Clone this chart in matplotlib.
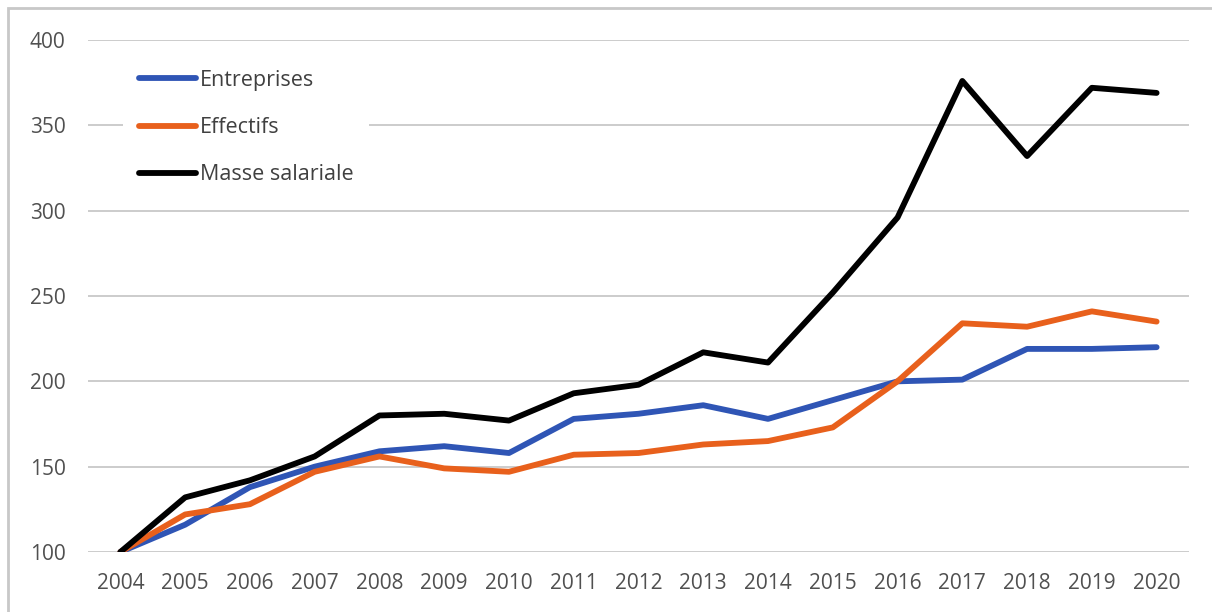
import matplotlib.pyplot as plt
from matplotlib.patches import Rectangle

years = [str(y) for y in range(2004, 2021)]
entreprises = [100, 116, 138, 150, 159, 162, 158, 178, 181, 186, 178, 189, 200, 201, 219, 219, 220]
effectifs = [100, 122, 128, 147, 156, 149, 147, 157, 158, 163, 165, 173, 200, 234, 232, 241, 235]
masse_salariale = [100, 132, 142, 156, 180, 181, 177, 193, 198, 217, 211, 252, 296, 376, 332, 372, 369]

plt.rcParams['font.family'] = ['Open Sans', 'DejaVu Sans']

fig = plt.figure(figsize=(12.12, 6.12), dpi=100)
ax = fig.add_axes([88 / 1212, 1 - 552 / 612, (1189 - 88) / 1212, 512 / 612])

x = range(len(years))
ax.plot(x, entreprises, color='#2f55b5', lw=4.2, label='Entreprises', solid_capstyle='round')
ax.plot(x, effectifs, color='#e8601c', lw=4.2, label='Effectifs', solid_capstyle='round')
ax.plot(x, masse_salariale, color='black', lw=4.2, label='Masse salariale', solid_capstyle='round')

ax.set_xlim(-0.5, len(years) - 0.5)
ax.set_ylim(100, 400)
ax.set_yticks(range(100, 401, 50))
ax.set_xticks(list(x))
ax.set_xticklabels(years)
ax.yaxis.grid(True, color='#c8c8c8', lw=1.3)
ax.set_axisbelow(True)
for s in ax.spines.values():
    s.set_visible(False)
ax.tick_params(length=0, labelsize=15, labelcolor='#505050')
ax.tick_params(axis='y', pad=42)
ax.tick_params(axis='x', pad=15)
for lab in ax.get_yticklabels():
    lab.set_horizontalalignment('left')

leg = ax.legend(loc='upper left', bbox_to_anchor=(0.032, 0.972), frameon=True,
                facecolor='white', edgecolor='none', framealpha=1,
                fontsize=15.5, handlelength=2.65, handletextpad=0.2,
                labelspacing=1.22, borderpad=0.72, borderaxespad=0)
for t in leg.get_texts():
    t.set_color('#404040')

fig.patches.append(Rectangle((8 / 1212, -0.1), 1.1, 1.1 - 8 / 612,
                             transform=fig.transFigure, fill=False,
                             edgecolor='#c8c8c8', lw=2))

fig.savefig('out.png', dpi=100)
